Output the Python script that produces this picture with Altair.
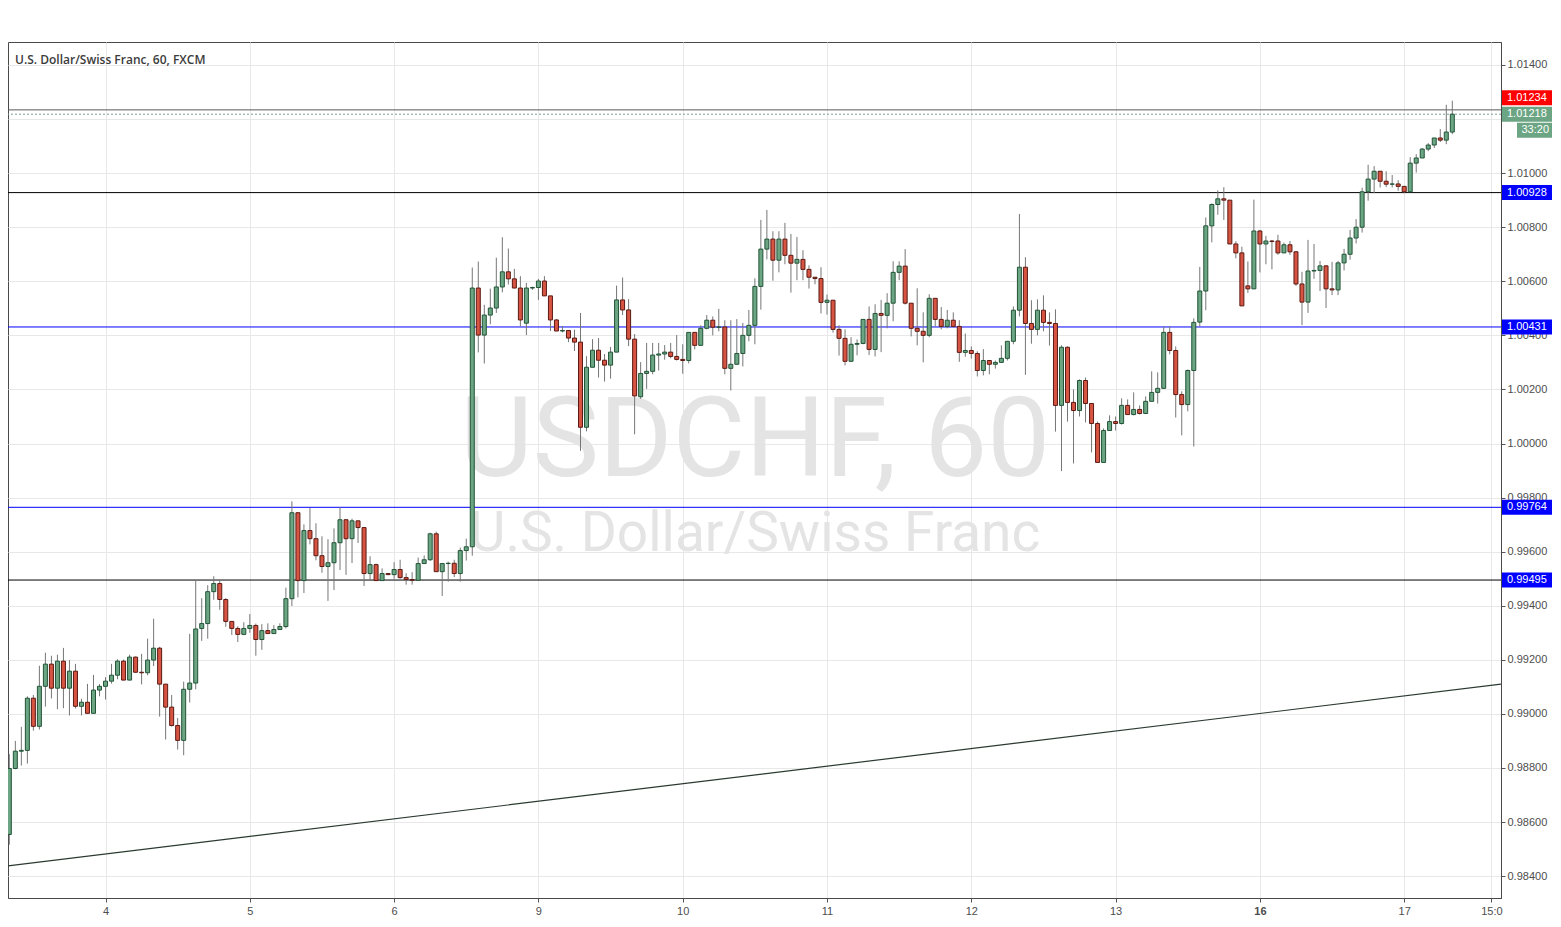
import altair as alt
import pandas as pd

# ---------------- data ----------------
opens = [
0.98554,0.98798,0.98862,0.98865,0.99058,0.98954,0.99102,0.99184,0.99095,0.99195,
0.99095,0.99158,0.99028,0.99043,0.99002,0.99088,0.99102,0.99121,0.99143,0.99195,
0.99125,0.99210,0.99154,0.99152,0.99199,0.99243,0.99110,0.99025,0.98957,0.98902,
0.99091,0.99114,0.99316,0.99334,0.99452,0.99482,0.99423,0.99342,0.99316,0.99294,
0.99316,0.99327,0.99275,0.99308,0.99297,0.99312,0.99323,0.99426,0.99744,0.99493,
0.99678,0.99648,0.99585,0.99545,0.99559,0.99633,0.99718,0.99648,0.99714,0.99689,
0.99519,0.99552,0.99493,0.99519,0.99515,0.99534,0.99504,0.99497,0.99494,0.99556,
0.99570,0.99666,0.99526,0.99556,0.99557,0.99519,0.99604,0.99618,1.00575,1.00401,
1.00475,1.00501,1.00579,1.00635,1.00609,1.00575,1.00445,1.00575,1.00577,1.00601,
1.00546,1.00457,1.00416,1.00418,1.00390,1.00375,1.00060,1.00282,1.00345,1.00308,
1.00290,1.00338,1.00531,1.00494,1.00386,1.00173,1.00259,1.00267,1.00327,1.00331,
1.00338,1.00322,1.00311,1.00307,1.00411,1.00363,1.00426,1.00456,1.00430,1.00431,
1.00278,1.00293,1.00333,1.00400,1.00437,1.00581,1.00719,1.00756,1.00678,1.00756,
1.00696,1.00667,1.00681,1.00644,1.00615,1.00610,1.00522,1.00530,1.00422,1.00389,
1.00304,1.00367,1.00370,1.00459,1.00348,1.00481,1.00474,1.00519,1.00633,1.00656,
1.00519,1.00426,1.00415,1.00400,1.00537,1.00459,1.00433,1.00456,1.00433,1.00337,
1.00344,1.00333,1.00270,1.00307,1.00293,1.00300,1.00315,1.00378,1.00493,1.00652,
1.00444,1.00422,1.00493,1.00448,1.00444,1.00141,1.00356,1.00152,1.00122,1.00233,
1.00148,1.00074,0.99930,1.00048,1.00081,1.00074,1.00141,1.00107,1.00126,1.00111,
1.00156,1.00189,1.00204,1.00411,1.00344,1.00181,1.00144,1.00270,1.00449,1.00564,
1.00805,1.00884,1.00905,1.00900,1.00738,1.00705,1.00583,1.00572,1.00786,1.00738,
1.00749,1.00749,1.00705,1.00735,1.00709,1.00590,1.00523,1.00638,1.00640,1.00657,
1.00572,1.00568,1.00668,1.00700,1.00760,1.00800,1.00931,1.00978,1.01007,1.00970,
1.00959,1.00960,1.00951,1.00931,1.01037,1.01056,1.01089,1.01104,1.01130,1.01122,
1.01152]
highs = [
0.98851,0.98900,0.98952,0.99065,0.99070,0.99178,0.99226,0.99215,0.99219,0.99244,
0.99199,0.99185,0.99056,0.99111,0.99144,0.99110,0.99136,0.99185,0.99202,0.99201,
0.99219,0.99212,0.99222,0.99278,0.99352,0.99248,0.99110,0.99070,0.98985,0.99119,
0.99296,0.99493,0.99428,0.99476,0.99509,0.99497,0.99428,0.99342,0.99324,0.99339,
0.99369,0.99334,0.99332,0.99335,0.99328,0.99335,0.99467,0.99786,0.99744,0.99701,
0.99762,0.99705,0.99657,0.99646,0.99686,0.99764,0.99718,0.99722,0.99714,0.99689,
0.99583,0.99556,0.99538,0.99520,0.99561,0.99570,0.99520,0.99524,0.99578,0.99586,
0.99670,0.99674,0.99556,0.99563,0.99570,0.99615,0.99648,1.00651,1.00673,1.00513,
1.00573,1.00687,1.00763,1.00721,1.00646,1.00619,1.00594,1.00580,1.00609,1.00619,
1.00546,1.00460,1.00434,1.00418,1.00421,1.00483,1.00323,1.00386,1.00390,1.00331,
1.00357,1.00584,1.00614,1.00534,1.00405,1.00301,1.00372,1.00372,1.00372,1.00364,
1.00372,1.00401,1.00367,1.00411,1.00411,1.00437,1.00475,1.00470,1.00498,1.00456,
1.00456,1.00460,1.00446,1.00494,1.00611,1.00827,1.00864,1.00785,1.00785,1.00816,
1.00775,1.00764,1.00715,1.00659,1.00615,1.00652,1.00551,1.00530,1.00437,1.00422,
1.00393,1.00385,1.00459,1.00507,1.00515,1.00531,1.00556,1.00674,1.00674,1.00719,
1.00519,1.00574,1.00485,1.00552,1.00537,1.00505,1.00494,1.00485,1.00456,1.00407,
1.00359,1.00341,1.00349,1.00307,1.00307,1.00363,1.00378,1.00507,1.00849,1.00689,
1.00530,1.00533,1.00548,1.00485,1.00496,1.00363,1.00359,1.00200,1.00237,1.00244,
1.00148,1.00081,1.00056,1.00104,1.00100,1.00167,1.00163,1.00189,1.00141,1.00174,
1.00267,1.00263,1.00433,1.00433,1.00359,1.00193,1.00274,1.00463,1.00653,1.00836,
1.00888,1.00936,1.00948,1.00900,1.00748,1.00728,1.00673,1.00902,1.00790,1.00768,
1.00753,1.00772,1.00743,1.00749,1.00712,1.00635,1.00753,1.00738,1.00675,1.00660,
1.00672,1.00675,1.00720,1.00790,1.00830,1.00946,1.01031,1.01026,1.01007,1.01007,
1.00993,1.00974,1.00951,1.01059,1.01070,1.01093,1.01111,1.01130,1.01163,1.01253,
1.01268]
lows = [
0.98516,0.98795,0.98809,0.98816,0.98938,0.98942,0.99027,0.99057,0.99017,0.99021,
0.98994,0.99020,0.98994,0.99002,0.99002,0.99065,0.99053,0.99112,0.99128,0.99125,
0.99125,0.99152,0.99109,0.99143,0.99177,0.98990,0.98905,0.98953,0.98868,0.98847,
0.99042,0.99091,0.99270,0.99278,0.99422,0.99385,0.99322,0.99292,0.99266,0.99291,
0.99300,0.99215,0.99237,0.99297,0.99296,0.99312,0.99316,0.99399,0.99431,0.99447,
0.99627,0.99568,0.99522,0.99418,0.99458,0.99532,0.99514,0.99558,0.99632,0.99473,
0.99494,0.99493,0.99493,0.99514,0.99500,0.99500,0.99478,0.99478,0.99494,0.99556,
0.99566,0.99526,0.99436,0.99489,0.99506,0.99489,0.99567,0.99585,1.00337,1.00296,
1.00441,1.00483,1.00559,1.00588,1.00575,1.00433,1.00401,1.00568,1.00531,1.00546,
1.00416,1.00416,1.00411,1.00375,1.00342,0.99973,1.00045,1.00282,1.00244,1.00229,
1.00240,1.00338,1.00475,1.00360,1.00034,1.00165,1.00202,1.00256,1.00270,1.00310,
1.00315,1.00307,1.00258,1.00296,1.00348,1.00363,1.00422,1.00400,1.00415,1.00256,
1.00196,1.00293,1.00285,1.00378,1.00367,1.00495,1.00681,1.00602,1.00633,1.00663,
1.00558,1.00604,1.00604,1.00573,1.00589,1.00481,1.00477,1.00410,1.00325,1.00289,
1.00304,1.00326,1.00367,1.00327,1.00322,1.00338,1.00426,1.00452,1.00604,1.00514,
1.00396,1.00363,1.00300,1.00393,1.00433,1.00422,1.00426,1.00430,1.00302,1.00321,
1.00314,1.00248,1.00252,1.00256,1.00277,1.00300,1.00307,1.00367,1.00470,1.00254,
1.00369,1.00400,1.00415,1.00362,1.00044,0.99898,1.00081,0.99926,1.00100,1.00078,
0.99967,0.99930,0.99930,1.00048,1.00048,1.00070,1.00107,1.00104,1.00107,1.00111,
1.00156,1.00148,1.00204,1.00330,1.00096,1.00030,1.00119,0.99989,1.00433,1.00493,
1.00744,1.00846,1.00827,1.00738,1.00685,1.00509,1.00557,1.00572,1.00633,1.00663,
1.00644,1.00698,1.00705,1.00698,1.00583,1.00438,1.00483,1.00609,1.00564,1.00501,
1.00549,1.00549,1.00640,1.00680,1.00740,1.00780,1.00898,1.00926,1.00947,1.00948,
1.00947,1.00935,1.00926,1.00931,1.01002,1.01056,1.01081,1.01093,1.01115,1.01107,
1.01144]
closes = [
0.98798,0.98862,0.98865,0.99058,0.98954,0.99102,0.99184,0.99095,0.99195,0.99095,
0.99158,0.99028,0.99043,0.99002,0.99088,0.99102,0.99121,0.99143,0.99195,0.99125,
0.99210,0.99154,0.99152,0.99199,0.99243,0.99110,0.99025,0.98957,0.98902,0.99091,
0.99114,0.99314,0.99334,0.99452,0.99482,0.99423,0.99342,0.99316,0.99294,0.99316,
0.99327,0.99275,0.99308,0.99297,0.99312,0.99323,0.99426,0.99744,0.99493,0.99678,
0.99648,0.99585,0.99545,0.99559,0.99633,0.99718,0.99648,0.99714,0.99689,0.99519,
0.99552,0.99493,0.99519,0.99515,0.99534,0.99504,0.99497,0.99494,0.99556,0.99570,
0.99666,0.99526,0.99556,0.99557,0.99519,0.99604,0.99618,1.00575,1.00401,1.00475,
1.00501,1.00579,1.00635,1.00609,1.00575,1.00457,1.00575,1.00577,1.00601,1.00546,
1.00457,1.00416,1.00418,1.00390,1.00375,1.00060,1.00282,1.00345,1.00308,1.00290,
1.00338,1.00531,1.00494,1.00386,1.00176,1.00259,1.00267,1.00327,1.00331,1.00338,
1.00322,1.00311,1.00307,1.00411,1.00363,1.00426,1.00456,1.00430,1.00431,1.00278,
1.00293,1.00333,1.00400,1.00437,1.00581,1.00719,1.00756,1.00678,1.00756,1.00696,
1.00667,1.00681,1.00644,1.00615,1.00610,1.00522,1.00530,1.00422,1.00389,1.00304,
1.00367,1.00370,1.00459,1.00348,1.00481,1.00474,1.00519,1.00633,1.00656,1.00519,
1.00426,1.00415,1.00400,1.00537,1.00459,1.00433,1.00456,1.00433,1.00337,1.00344,
1.00333,1.00270,1.00307,1.00293,1.00300,1.00315,1.00378,1.00493,1.00652,1.00444,
1.00422,1.00493,1.00448,1.00444,1.00141,1.00356,1.00152,1.00122,1.00233,1.00148,
1.00074,0.99930,1.00048,1.00081,1.00074,1.00141,1.00107,1.00126,1.00111,1.00156,
1.00189,1.00204,1.00411,1.00344,1.00181,1.00144,1.00270,1.00448,1.00564,1.00805,
1.00884,1.00905,1.00900,1.00738,1.00705,1.00509,1.00572,1.00786,1.00738,1.00749,
1.00747,1.00705,1.00735,1.00709,1.00590,1.00523,1.00638,1.00640,1.00657,1.00572,
1.00568,1.00668,1.00700,1.00760,1.00800,1.00931,1.00978,1.01007,1.00970,1.00959,
1.00960,1.00951,1.00931,1.01037,1.01056,1.01089,1.01104,1.01130,1.01122,1.01152,
1.01218]

# day boundaries (bar index) and their labels
tick_idx = [16, 40, 64, 88, 112, 136, 160, 184, 208, 232, 246.5]
tick_labels = ["4", "5", "6", "9", "10", "11", "12", "13", "16", "17", "15:0"]

# price axis ticks (the 1.01200 label sits under the last-price tag)
y_vals = [0.984, 0.986, 0.988, 0.990, 0.992, 0.994, 0.996, 0.998,
          1.000, 1.002, 1.004, 1.006, 1.008, 1.010, 1.012, 1.014]
y_hidden_label = 1.012

# horizontal support / resistance levels
level_prices = [1.00928, 1.00431, 0.99764, 0.99495]
level_colors = ["#000000", "#0000ff", "#0000ff", "#000000"]

# upper reference lines (high marker and last price)
high_line = 1.01234
last_price = 1.01218

# trend line end points (bar index, price)
trend_x = [-0.22, 248.1]
trend_y = [0.98438, 0.99110]

# right-hand price tags: price, text, background, pixel shift
tag_prices = [1.01234, 1.01218, 1.00928, 1.00431, 0.99764, 0.99495]
tag_texts = ["1.01234", "1.01218", "1.00928", "1.00431", "0.99764", "0.99495"]
tag_colors = ["#ff0000", "#6ba583", "#0000ff", "#0000ff", "#0000ff", "#0000ff"]
tag_shift = [-12, 0, 0, 0, 0, 0]
timer_text = "33:20"

# ---------------- chart ----------------
W, H = 1493, 856
X_DOMAIN = [-0.22, 248.1]
Y_DOMAIN = [0.98319, 1.01485]

n = len(opens)
df = pd.DataFrame({
    "i": list(range(n)),
    "open": opens, "high": highs, "low": lows, "close": closes,
})
df["dir"] = ["up" if c >= o else "down" for o, c in zip(opens, closes)]

xs = alt.Scale(domain=X_DOMAIN, nice=False, zero=False, padding=0)
ys = alt.Scale(domain=Y_DOMAIN, nice=False, zero=False, padding=0)

label_expr = " : ".join(
    f"datum.value == {v} ? '{l}'" for v, l in zip(tick_idx, tick_labels)
) + " : ''"

x_axis = alt.Axis(
    values=tick_idx, labelExpr=label_expr, title=None, grid=True,
    gridColor="#e8e8e8", tickSize=4, tickColor="#555555",
    domainColor="#4a4a4a", labelColor="#4d4d4d", labelFontSize=11,
    labelFont="Liberation Sans", labelPadding=3, labelFlush=False,
    labelFontWeight={"condition": {"test": "datum.value == 208", "value": "bold"},
                     "value": "normal"},
)
y_axis = alt.Axis(
    orient="right", values=y_vals, title=None, grid=True,
    labelExpr=f"abs(datum.value - {y_hidden_label}) < 0.0001 ? '' : format(datum.value, '.5f')",
    gridColor="#e8e8e8", tickSize=4, tickColor="#555555",
    domainColor="#4a4a4a", labelColor="#4d4d4d", labelFontSize=11,
    labelFont="Liberation Sans", labelPadding=2,
)

base = alt.Chart(df)

# axes / grid carrier (invisible)
grid_layer = base.mark_point(opacity=0).encode(
    x=alt.X("i:Q", scale=xs, axis=x_axis),
    y=alt.Y("close:Q", scale=ys, axis=y_axis),
)

# watermark
wm_df = pd.DataFrame({"t": ["USDCHF, 60"]})
wm1 = alt.Chart(wm_df).mark_text(
    font="Roboto", fontSize=112, color="#e4e4e4", align="center",
    baseline="alphabetic",
).encode(text="t:N", x=alt.value(747), y=alt.value(434))
wm2_df = pd.DataFrame({"t": ["U.S. Dollar/Swiss Franc"]})
wm2 = alt.Chart(wm2_df).mark_text(
    font="Roboto", fontSize=55, color="#e4e4e4", align="center",
    baseline="alphabetic",
).encode(text="t:N", x=alt.value(747), y=alt.value(509))

# title
title_df = pd.DataFrame({"t": ["U.S. Dollar/Swiss Franc, 60, FXCM"]})
title_layer = alt.Chart(title_df).mark_text(
    font="Open Sans", fontSize=12, fontWeight=600, color="#3c3c3c", align="left",
    baseline="alphabetic",
).encode(text="t:N", x=alt.value(7), y=alt.value(22))

# levels
lv_df = pd.DataFrame({"price": level_prices, "col": level_colors})
levels = alt.Chart(lv_df).mark_rule(strokeWidth=1).encode(
    y=alt.Y("price:Q", scale=ys),
    color=alt.Color("col:N", scale=None),
)
hl_df = pd.DataFrame({"price": [high_line]})
high_rule = alt.Chart(hl_df).mark_rule(strokeWidth=1, color="#5a5a5a").encode(
    y=alt.Y("price:Q", scale=ys))
lp_df = pd.DataFrame({"price": [last_price]})
last_rule = alt.Chart(lp_df).mark_rule(
    strokeWidth=1, color="#7f9f8a", strokeDash=[2, 2]).encode(
    y=alt.Y("price:Q", scale=ys))

# trend line
tr_df = pd.DataFrame({"x": trend_x, "y": trend_y})
trend = alt.Chart(tr_df).mark_line(color="#2b3a30", strokeWidth=1.2, clip=True).encode(
    x=alt.X("x:Q", scale=xs), y=alt.Y("y:Q", scale=ys))

# candles
wicks = base.mark_rule(strokeWidth=1, color="#767676").encode(
    x=alt.X("i:Q", scale=xs), y=alt.Y("low:Q", scale=ys), y2="high:Q")
bodies = base.mark_bar(size=4, strokeWidth=1).encode(
    x=alt.X("i:Q", scale=xs),
    y=alt.Y("open:Q", scale=ys), y2="close:Q",
    fill=alt.Fill("dir:N", scale=alt.Scale(domain=["up", "down"],
                                            range=["#6ba583", "#d75442"]), legend=None),
    stroke=alt.Stroke("dir:N", scale=alt.Scale(domain=["up", "down"],
                                                range=["#225437", "#5b1a13"]), legend=None),
)

# price tags on the right axis
tag_layers = []
for p, t, c, s in zip(tag_prices, tag_texts, tag_colors, tag_shift):
    d = pd.DataFrame({"price": [p], "t": [t]})
    r = alt.Chart(d).mark_rect(color=c, yOffset=s - 7.5, y2Offset=s + 7.5).encode(
        x=alt.value(W + 1), x2=alt.value(W + 51),
        y=alt.Y("price:Q", scale=ys), y2="price:Q")
    tx = alt.Chart(d).mark_text(
        color="white", font="Liberation Sans", fontSize=11, align="left",
        baseline="middle", dy=s,
    ).encode(x=alt.value(W + 6), y=alt.Y("price:Q", scale=ys), text="t:N")
    tag_layers += [r, tx]
td = pd.DataFrame({"price": [last_price], "t": [timer_text]})
tag_layers.append(alt.Chart(td).mark_rect(color="#6ba583", yOffset=8.5, y2Offset=23.5).encode(
    x=alt.value(W + 16), x2=alt.value(W + 51),
    y=alt.Y("price:Q", scale=ys), y2="price:Q"))
tag_layers.append(alt.Chart(td).mark_text(
    color="white", font="Liberation Sans", fontSize=11, align="right",
    baseline="middle", dy=16).encode(
    x=alt.value(W + 48), y=alt.Y("price:Q", scale=ys), text="t:N"))

chart = alt.layer(
    grid_layer, wm1, wm2, levels, high_rule, last_rule, trend, wicks, bodies,
    title_layer, *tag_layers,
).properties(
    width=W, height=H,
    autosize=alt.AutoSizeParams(type="none"),
    padding={"left": 0, "top": 34, "right": 52, "bottom": 20},
    background="white",
).configure_view(
    stroke="#4a4a4a", strokeWidth=1,
)

chart.save("out.html", embed_options={"renderer": "svg", "actions": False})
